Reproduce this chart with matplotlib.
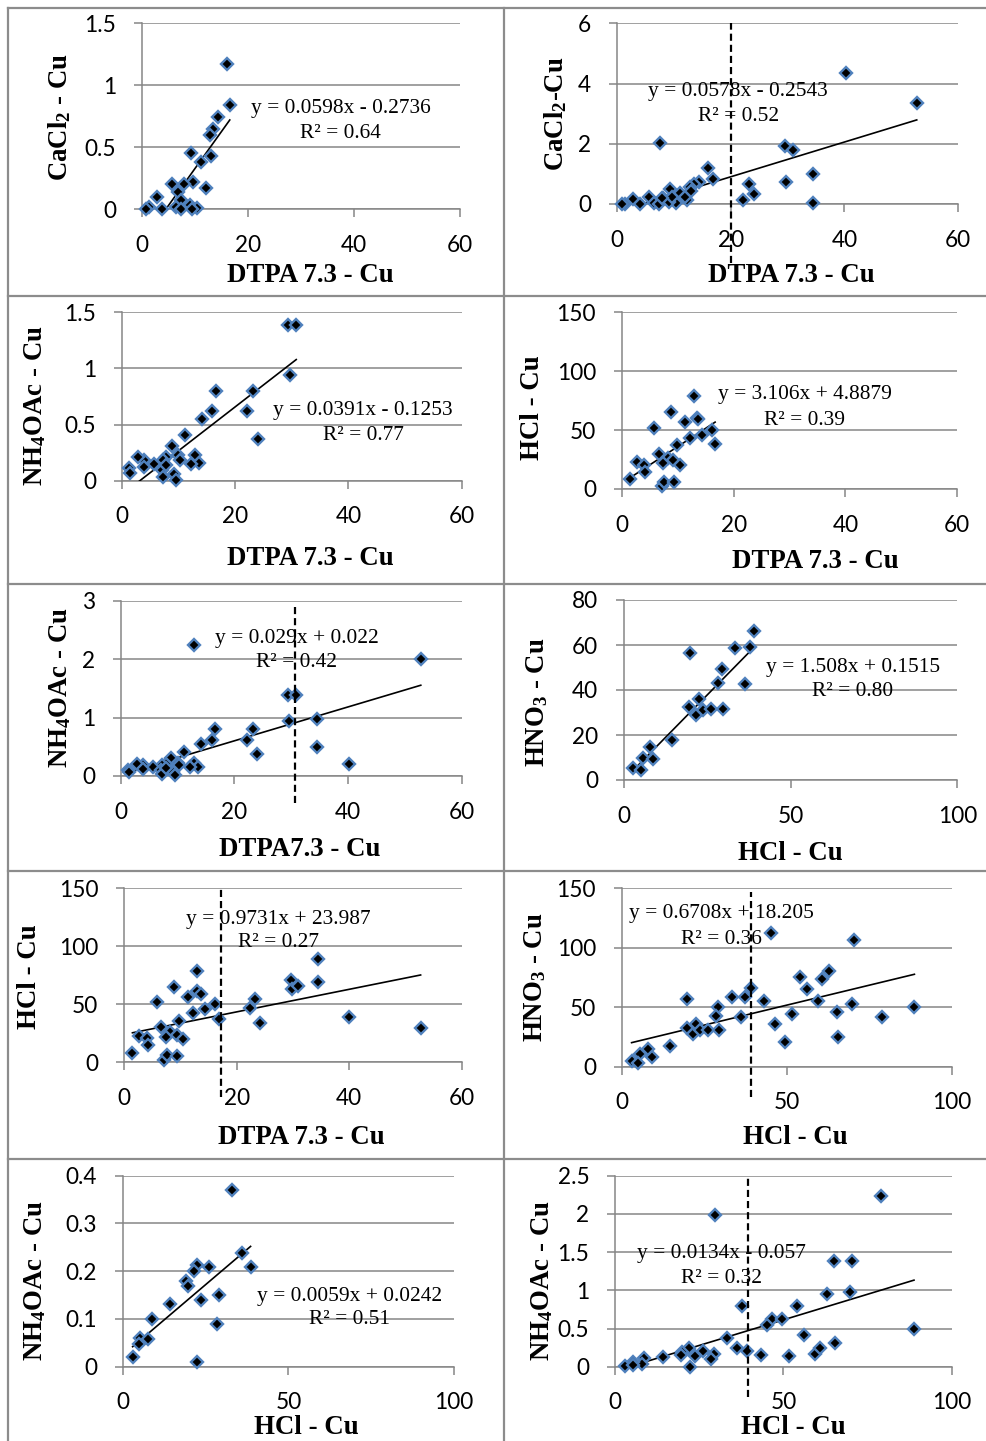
import matplotlib
matplotlib.use("Agg")
import matplotlib.pyplot as plt
from matplotlib.lines import Line2D
from matplotlib.ticker import FuncFormatter

plt.rcParams['mathtext.fontset'] = 'custom'
plt.rcParams['mathtext.rm'] = 'Liberation Serif:bold'
plt.rcParams['mathtext.default'] = 'rm'

# ---------------- data ----------------
p1_dtpa = [16.0, 16.6, 14.4, 13.5, 12.8, 13.0, 9.2, 11.2, 9.7, 12.2, 5.7, 7.9, 6.9, 7.5, 2.8, 1.3, 3.8, 6.5, 9.1, 10.4, 7.5, 9.4, 0.9]
p1_cacl2 = [1.17, 0.84, 0.74, 0.65, 0.60, 0.43, 0.45, 0.38, 0.22, 0.17, 0.20, 0.20, 0.14, 0.075, 0.10, 0.016, 0.0, 0.02, 0.035, 0.01, 0.0, 0.0, 0.0]

p2_dtpa = [40.2, 52.7, 7.6, 29.6, 30.9, 16.1, 16.9, 14.5, 13.5, 12.9, 34.4, 29.7, 23.3, 24.1, 22.2, 34.4, 9.4, 11.1, 12.4, 10.5, 8.2, 5.6, 2.9, 1.5, 4.1, 6.6, 7.5, 9.1, 12.0, 13.0, 9.7, 7.9, 0.9]
p2_cacl2 = [4.34, 3.34, 2.01, 1.94, 1.80, 1.18, 0.82, 0.74, 0.65, 0.58, 1.00, 0.74, 0.65, 0.33, 0.13, 0.02, 0.49, 0.38, 0.13, 0.02, 0.19, 0.22, 0.15, 0.0, 0.0, 0.04, 0.0, 0.08, 0.24, 0.43, 0.22, 0.20, 0.0]

p3_dtpa = [29.4, 30.8, 29.7, 23.2, 16.6, 22.2, 16.0, 14.2, 24.0, 11.2, 8.8, 10.0, 10.3, 12.9, 13.6, 12.2, 7.9, 7.2, 5.7, 3.9, 2.8, 3.9, 1.2, 1.5, 7.1, 7.2, 9.2, 9.5, 7.9]
p3_nh4oac = [1.39, 1.39, 0.94, 0.80, 0.80, 0.62, 0.62, 0.55, 0.37, 0.41, 0.31, 0.23, 0.18, 0.23, 0.16, 0.15, 0.21, 0.18, 0.15, 0.18, 0.21, 0.12, 0.11, 0.065, 0.095, 0.03, 0.06, 0.01, 0.14]

p4_dtpa = [13.0, 8.9, 5.8, 11.3, 13.4, 13.7, 16.1, 16.7, 14.4, 12.3, 9.8, 6.7, 8.2, 7.4, 9.2, 10.4, 2.8, 3.9, 4.2, 1.5, 7.2, 7.6, 9.4]
p4_hcl = [79, 65, 52, 56.6, 60.6, 59, 50, 38, 46, 43, 37, 30, 26.6, 22, 24.6, 20.4, 22.6, 20.4, 14.7, 8.5, 2.8, 6.2, 5.7]

p5_dtpa = [12.9, 52.8, 34.5, 34.5, 40.2, 29.4, 30.8, 29.7, 23.2, 16.6, 22.2, 16.0, 14.2, 24.0, 11.2, 8.8, 10.0, 10.3, 12.9, 13.6, 12.2, 7.9, 7.2, 5.7, 3.9, 2.8, 3.9, 1.2, 1.5, 7.1, 7.2, 9.2, 9.5, 7.9]
p5_nh4oac = [2.24, 2.00, 0.98, 0.50, 0.21, 1.39, 1.39, 0.94, 0.80, 0.80, 0.62, 0.62, 0.55, 0.37, 0.41, 0.31, 0.23, 0.18, 0.23, 0.16, 0.15, 0.21, 0.18, 0.15, 0.18, 0.21, 0.12, 0.11, 0.065, 0.095, 0.03, 0.06, 0.01, 0.14]

p6_hcl = [39.0, 37.8, 33.3, 19.8, 29.3, 28.3, 36.3, 22.5, 19.5, 21.6, 23.8, 26.0, 29.6, 14.5, 7.8, 5.6, 8.8, 2.8, 5.1]
p6_hno3 = [66.2, 59.3, 58.8, 56.6, 49.3, 43.0, 42.5, 36.0, 32.6, 28.9, 31.1, 31.4, 31.4, 17.8, 14.5, 9.9, 9.3, 5.5, 4.4]

p7_dtpa = [12.9, 8.9, 5.8, 11.4, 13.0, 13.6, 16.2, 16.9, 14.4, 12.3, 9.8, 6.6, 8.2, 7.4, 9.4, 10.4, 2.7, 4.0, 4.3, 1.5, 7.1, 7.7, 9.5, 34.5, 34.5, 29.6, 29.8, 30.9, 23.3, 22.3, 24.2, 40.0, 52.7]
p7_hcl = [78.7, 65.2, 51.7, 56.6, 61.8, 58.9, 50.3, 37.4, 45.7, 42.8, 35.9, 30.7, 26.4, 22.1, 23.6, 19.8, 22.7, 20.7, 14.9, 8.3, 2.0, 6.3, 5.5, 88.8, 69.5, 71.0, 62.9, 65.8, 54.3, 46.6, 33.6, 39.4, 29.9]

p8_hcl = [45.2, 70.4, 62.8, 60.6, 54.0, 56.1, 59.6, 39.1, 37.4, 33.3, 43.1, 19.9, 29.3, 28.6, 36.1, 51.5, 46.5, 49.5, 65.2, 65.4, 69.9, 78.8, 88.7, 22.5, 19.7, 21.7, 23.7, 26.3, 29.6, 14.6, 8.1, 5.6, 9.1, 3.0, 4.8]
p8_hno3 = [112.1, 106.5, 80.5, 73.5, 75.7, 65.3, 55.5, 66.4, 58.9, 58.9, 55.2, 56.6, 49.9, 42.6, 42.1, 44.0, 35.9, 21.0, 46.3, 25.2, 52.7, 42.1, 49.9, 35.9, 32.2, 27.5, 30.8, 30.8, 30.8, 17.7, 14.6, 10.4, 8.4, 4.8, 3.4]

p9_hcl = [33.1, 36.1, 38.6, 22.3, 26.1, 21.5, 19.1, 19.8, 29.1, 23.6, 14.3, 28.4, 8.8, 5.2, 7.7, 4.9, 3.0, 22.3]
p9_nh4oac = [0.37, 0.239, 0.209, 0.212, 0.209, 0.200, 0.179, 0.170, 0.150, 0.140, 0.131, 0.089, 0.100, 0.061, 0.059, 0.047, 0.021, 0.010]

p10_hcl = [78.9, 29.7, 65.1, 70.3, 62.9, 69.8, 54.2, 37.8, 46.5, 49.5, 45.0, 56.1, 88.8, 65.3, 33.4, 36.1, 39.1, 43.3, 51.8, 59.4, 60.9, 29.4, 26.2, 28.4, 23.8, 22.1, 19.8, 19.5, 22.3, 14.4, 8.7, 7.9, 5.2, 3.0, 5.4]
p10_nh4oac = [2.24, 1.99, 1.38, 1.38, 0.95, 0.98, 0.80, 0.80, 0.63, 0.62, 0.55, 0.41, 0.50, 0.31, 0.37, 0.24, 0.21, 0.15, 0.14, 0.16, 0.24, 0.16, 0.21, 0.10, 0.14, 0.24, 0.19, 0.15, 0.0, 0.13, 0.11, 0.04, 0.065, 0.013, 0.02]

fit_slopes = [0.0598, 0.0578, 0.0391, 3.106, 0.029, 1.508, 0.9731, 0.6708, 0.0059, 0.0134]
fit_intercepts = [-0.2736, -0.2543, -0.1253, 4.8879, 0.022, 0.1515, 23.987, 18.205, 0.0242, -0.057]
eq_texts = ["y = 0.0598x - 0.2736", "y = 0.0578x - 0.2543", "y = 0.0391x - 0.1253",
            "y = 3.106x + 4.8879", "y = 0.029x + 0.022", "y = 1.508x + 0.1515",
            "y = 0.9731x + 23.987", "y = 0.6708x + 18.205", "y = 0.0059x + 0.0242",
            "y = 0.0134x - 0.057"]
r2_texts = ["R² = 0.64", "R² = 0.52", "R² = 0.77", "R² = 0.39", "R² = 0.42",
            "R² = 0.80", "R² = 0.27", "R² = 0.36", "R² = 0.51", "R² = 0.32"]
x_labels = ["DTPA 7.3 - Cu", "DTPA 7.3 - Cu", "DTPA 7.3 - Cu", "DTPA 7.3 - Cu", "DTPA7.3 - Cu",
            "HCl - Cu", "DTPA 7.3 - Cu", "HCl - Cu", "HCl - Cu", "HCl - Cu"]
y_labels = ["CaCl$_2$ - Cu", "CaCl$_2$-Cu", "NH$_4$OAc - Cu", "HCl - Cu", "NH$_4$OAc - Cu",
            "HNO$_3$ - Cu", "HCl - Cu", "HNO$_3$ - Cu", "NH$_4$OAc - Cu", "NH$_4$OAc - Cu"]
cutoffs = [None, 20.0, None, None, 30.7, None, 17.2, 39.1, None, 39.6]

xs_all = [p1_dtpa, p2_dtpa, p3_dtpa, p4_dtpa, p5_dtpa, p6_hcl, p7_dtpa, p8_hcl, p9_hcl, p10_hcl]
ys_all = [p1_cacl2, p2_cacl2, p3_nh4oac, p4_hcl, p5_nh4oac, p6_hno3, p7_hcl, p8_hno3, p9_nh4oac, p10_nh4oac]
x_ticks = [[0, 20, 40, 60], [0, 20, 40, 60], [0, 20, 40, 60], [0, 20, 40, 60], [0, 20, 40, 60],
           [0, 50, 100], [0, 20, 40, 60], [0, 50, 100], [0, 50, 100], [0, 50, 100]]
y_ticks = [[0, 0.5, 1, 1.5], [0, 2, 4, 6], [0, 0.5, 1, 1.5], [0, 50, 100, 150], [0, 1, 2, 3],
           [0, 20, 40, 60, 80], [0, 50, 100, 150], [0, 50, 100, 150], [0, 0.1, 0.2, 0.3, 0.4],
           [0, 0.5, 1, 1.5, 2, 2.5]]

# ---------------- layout (pixels) ----------------
W, H = 987, 1441
boxes = [(141.7, 460, 23.3, 209), (616.7, 958.3, 23.3, 204),
         (121.7, 461.7, 312.3, 480.7), (621.7, 957.3, 312.3, 489),
         (120.7, 461.7, 600.7, 776), (624, 957.3, 600, 780),
         (124, 461.7, 888.3, 1062.3), (621.7, 951.7, 888.3, 1066.7),
         (122.7, 454, 1175.7, 1366.7), (615, 951.7, 1175.7, 1366.7)]
eq_pos = [(340.7, 108.3, 133.3), (738.3, 91.7, 116.7), (363.3, 410, 435), (805, 395, 420),
          (296.7, 638.3, 662.3), (852.7, 667.7, 691.7), (278.3, 919.3, 942.7),
          (721.7, 914, 939), (349.3, 1296.7, 1320), (721.7, 1253.3, 1278.3)]
xlab_pos = [(310, 275), (791.7, 275), (310, 558), (815, 562), (300, 850), (790, 853),
            (301.7, 1138), (795, 1138), (306.7, 1427.7), (793.3, 1427.7)]
ylab_pos = [(60, 117), (556, 114), (35, 406), (533, 408), (60, 688), (537, 702),
            (30, 977), (535, 977), (35, 1281), (542, 1281)]
dash_ext = [None, (-0.327, 1.0), None, None, (-0.154, 0.975), None, (-0.2, 1.0),
            (-0.168, 0.981), None, (-0.157, 1.0)]

GRID = '#868686'
EDGE = '#4F81BD'
SERIF = 'Liberation Serif'
SANS = 'Lato'

fig = plt.figure(figsize=(W / 100, H / 100), dpi=100)


def fxy(x, y):
    return x / W, 1 - y / H


fmt = FuncFormatter(lambda v, p: f'{v:g}')

for i in range(10):
    l, r, t, b = boxes[i]
    ax = fig.add_axes([l / W, 1 - b / H, (r - l) / W, (b - t) / H])
    xt, yt = x_ticks[i], y_ticks[i]
    ax.set_xlim(xt[0], xt[-1])
    ax.set_ylim(yt[0], yt[-1])
    ax.set_xticks(xt)
    ax.set_yticks(yt)
    ax.xaxis.set_major_formatter(fmt)
    ax.yaxis.set_major_formatter(fmt)
    for s in ['top', 'right']:
        ax.spines[s].set_visible(False)
    for s in ['left', 'bottom']:
        ax.spines[s].set_color(GRID)
        ax.spines[s].set_linewidth(1.1)
    ax.grid(axis='y', color=GRID, linewidth=1.1)
    ax.set_axisbelow(True)
    ax.tick_params(axis='x', direction='out', length=6, width=1.1, color=GRID, pad=12.5,
                   labelsize=16.3)
    ax.tick_params(axis='y', direction='out', length=6, width=1.1, color=GRID, pad=12.5,
                   labelsize=16.3)
    for lab in ax.get_xticklabels() + ax.get_yticklabels():
        lab.set_fontfamily(SANS)
    ax.patch.set_alpha(0)

    xd, yd = xs_all[i], ys_all[i]
    x_lo, x_hi = min(xd), max(xd)
    ax.plot([x_lo, x_hi], [fit_slopes[i] * x_lo + fit_intercepts[i],
                           fit_slopes[i] * x_hi + fit_intercepts[i]],
            color='black', linewidth=1.2, zorder=3)
    ax.plot(xd, yd, linestyle='none', marker='D', markersize=6.6,
            markerfacecolor='black', markeredgecolor=EDGE, markeredgewidth=1.7,
            clip_on=False, zorder=4)
    if cutoffs[i] is not None:
        lo, hi = dash_ext[i]
        ax.axvline(cutoffs[i], ymin=lo, ymax=hi, color='black', linewidth=1.6,
                   linestyle=(0, (3.2, 1.8)), clip_on=False, zorder=5)

    ex, ey1, ey2 = eq_pos[i]
    fig.text(*fxy(ex, ey1), eq_texts[i], ha='center', va='center', fontsize=15.4,
             family=SERIF, zorder=2)
    fig.text(*fxy(ex, ey2), r2_texts[i], ha='center', va='center', fontsize=15.4,
             family=SERIF, zorder=2)
    fig.text(*fxy(*xlab_pos[i]), x_labels[i], ha='center', va='center', fontsize=19.4,
             family=SERIF, fontweight='bold')
    fig.text(*fxy(*ylab_pos[i]), y_labels[i], ha='center', va='center', fontsize=19.4,
             family=SERIF, fontweight='bold', rotation=90)

# cell borders
BORDER = '#8c8c8c'
lines = [((8.5, 8), (987, 8)), ((8.5, 8), (8.5, 1441)), ((504, 8), (504, 1441)),
         ((8.5, 296), (987, 296)), ((8.5, 583.5), (987, 583.5)),
         ((8.5, 870.5), (987, 870.5)), ((8.5, 1158.5), (987, 1158.5))]
for (x1, y1), (x2, y2) in lines:
    a, b_ = fxy(x1, y1)
    c, d = fxy(x2, y2)
    fig.add_artist(Line2D([a, c], [b_, d], transform=fig.transFigure, color=BORDER,
                          linewidth=1.6))

fig.savefig('out.png', dpi=100)
